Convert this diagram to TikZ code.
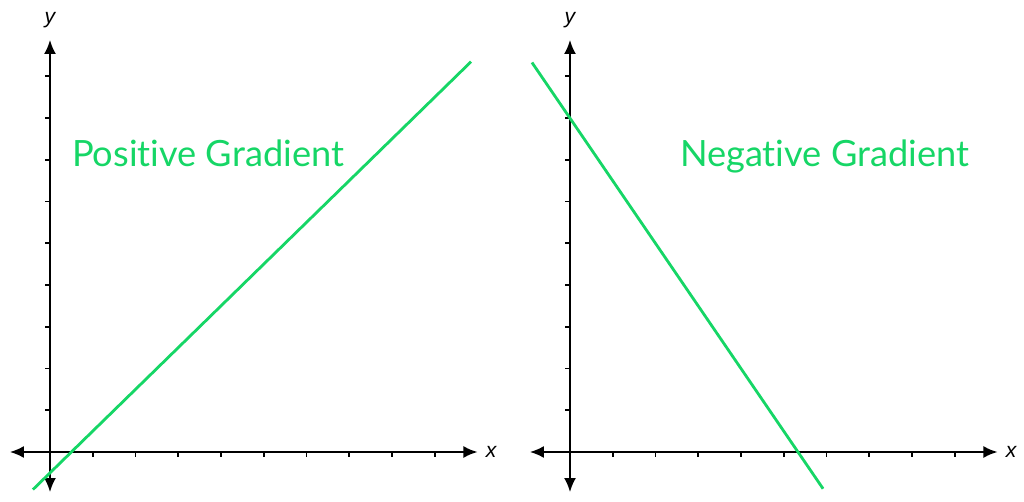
\documentclass[tikz,border=0pt]{standalone}
\usepackage{fontspec}
\setmainfont{Lato}[Ligatures=NoCommon]
\setsansfont{Liberation Sans}
\usetikzlibrary{arrows.meta}
\definecolor{gradgreen}{RGB}{22,214,102}

\begin{document}
\begin{tikzpicture}[
    x=0.4275cm, y=0.4175cm,
    axis/.style={draw, line width=0.55pt, {Latex[length=4pt,width=3.4pt]}-{Latex[length=4pt,width=3.4pt]}},
    tick/.style={draw, line width=0.5pt},
    gradline/.style={draw=gradgreen, line width=0.8pt},
    axis label/.style={font=\sffamily\itshape\fontsize{6}{7}\selectfont, inner sep=0pt},
    title/.style={text=gradgreen, font=\fontsize{10.3}{12}\selectfont, anchor=base west, inner sep=0pt}
]
\useasboundingbox (-0.5cm,-0.5cm) rectangle (9.74cm,4.52cm);

% grafico di sinistra: pendenza positiva
\begin{scope}
    \coordinate (xneg1) at (-0.94,0);
    \coordinate (xpos1) at (10,0);
    \coordinate (yneg1) at (0,-0.96);
    \coordinate (ypos1) at (0,9.87);
    \draw[axis] (xneg1) -- (xpos1);
    \draw[axis] (yneg1) -- (ypos1);
    \foreach \k in {1,...,9} {
        \draw[tick] (\k,0) -- (\k,-0.12);
        \draw[tick] (0,\k) -- (-0.12,\k);
    }
    \node[axis label] (xlab1) at (10.32,0) {x};
    \node[axis label] (ylab1) at (0,10.35) {y};
    \coordinate (pstart) at (-0.4,-0.9);
    \coordinate (pend) at (9.85,9.35);
    \draw[gradline] (pstart) -- (pend);
    \node[title] (postitle) at (0.5,6.85) {Positive Gradient};
\end{scope}

% grafico di destra: pendenza negativa
\begin{scope}[shift={(5.2cm,0)}]
    \coordinate (xneg2) at (-0.94,0);
    \coordinate (xpos2) at (10,0);
    \coordinate (yneg2) at (0,-0.96);
    \coordinate (ypos2) at (0,9.87);
    \draw[axis] (xneg2) -- (xpos2);
    \draw[axis] (yneg2) -- (ypos2);
    \foreach \k in {1,...,9} {
        \draw[tick] (\k,0) -- (\k,-0.12);
        \draw[tick] (0,\k) -- (-0.12,\k);
    }
    \node[axis label] (xlab2) at (10.32,0) {x};
    \node[axis label] (ylab2) at (0,10.35) {y};
    \coordinate (nstart) at (-0.89,9.33);
    \coordinate (nend) at (5.92,-0.88);
    \draw[gradline] (nstart) -- (nend);
    \node[title] (negtitle) at (2.56,6.85) {Negative Gradient};
\end{scope}
\end{tikzpicture}
\end{document}
